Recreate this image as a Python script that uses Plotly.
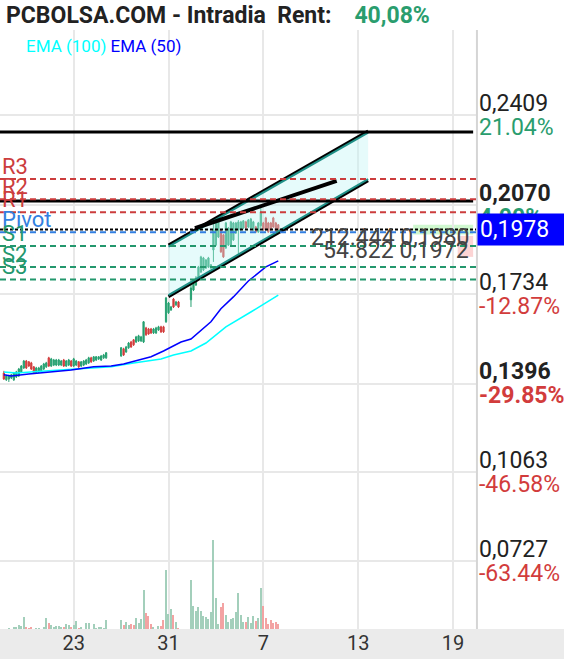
import plotly.graph_objects as go

# ---------------- data ----------------
bar_idx = list(range(0, 42)) + list(range(47, 71)) + list(range(75, 111))

opens = [
    0.1437, 0.1411, 0.1414, 0.1418, 0.1411, 0.1422, 0.1426, 0.1441, 0.1456, 0.1482,
    0.1479, 0.1475, 0.1460, 0.1437, 0.1441, 0.1445, 0.1452, 0.1460, 0.1494, 0.1463,
    0.1467, 0.1467, 0.1467, 0.1467, 0.1486, 0.1463, 0.1467, 0.1482, 0.1463, 0.1467,
    0.1479, 0.1463, 0.1467, 0.1471, 0.1475, 0.1494, 0.1482, 0.1486, 0.1490, 0.1486,
    0.1494, 0.1494,
    0.1501, 0.1528, 0.1516, 0.1532, 0.1554, 0.1562, 0.1554, 0.1558, 0.1558, 0.1554,
    0.1607, 0.1603, 0.1603, 0.1588, 0.1588, 0.1599, 0.1611, 0.1611, 0.1630, 0.1664,
    0.1675, 0.1716, 0.1694, 0.1705,
    0.1713, 0.1750, 0.1769, 0.1799, 0.1818, 0.1826, 0.1833, 0.1837, 0.1833, 0.1901,
    0.1920, 0.1950, 0.1977, 0.1958, 0.1909, 0.1920, 0.1920, 0.1939, 0.1965, 0.1977,
    0.1977, 0.1984, 0.2007, 0.1988, 0.1984, 0.1977, 0.1988, 0.1969, 0.1992, 0.2003,
    0.2022, 0.2003, 0.2003, 0.2022, 0.2003, 0.1996,
]
highs = [
    0.1445, 0.1430, 0.1430, 0.1433, 0.1441, 0.1445, 0.1456, 0.1467, 0.1486, 0.1486,
    0.1482, 0.1479, 0.1463, 0.1460, 0.1460, 0.1467, 0.1475, 0.1479, 0.1498, 0.1494,
    0.1490, 0.1490, 0.1490, 0.1486, 0.1490, 0.1486, 0.1490, 0.1486, 0.1494, 0.1486,
    0.1482, 0.1482, 0.1486, 0.1490, 0.1498, 0.1498, 0.1501, 0.1501, 0.1501, 0.1505,
    0.1509, 0.1516,
    0.1535, 0.1532, 0.1539, 0.1554, 0.1558, 0.1565, 0.1577, 0.1581, 0.1577, 0.1633,
    0.1611, 0.1607, 0.1607, 0.1607, 0.1611, 0.1615, 0.1615, 0.1615, 0.1724, 0.1705,
    0.1690, 0.1720, 0.1709, 0.1709,
    0.1769, 0.1788, 0.1803, 0.1841, 0.1879, 0.1875, 0.1867, 0.1875, 0.1848, 0.2007,
    0.2007, 0.2018, 0.1980, 0.1962, 0.2007, 0.1988, 0.2011, 0.2007, 0.2007, 0.2014,
    0.2011, 0.2014, 0.2011, 0.2018, 0.2022, 0.2011, 0.1992, 0.2007, 0.2063, 0.2007,
    0.2026, 0.2007, 0.2007, 0.2026, 0.2007, 0.1999,
]
lows = [
    0.1411, 0.1407, 0.1403, 0.1414, 0.1407, 0.1418, 0.1422, 0.1437, 0.1452, 0.1452,
    0.1460, 0.1448, 0.1433, 0.1433, 0.1437, 0.1441, 0.1448, 0.1456, 0.1460, 0.1460,
    0.1463, 0.1463, 0.1463, 0.1463, 0.1460, 0.1460, 0.1463, 0.1460, 0.1460, 0.1463,
    0.1456, 0.1460, 0.1463, 0.1467, 0.1471, 0.1475, 0.1479, 0.1482, 0.1486, 0.1482,
    0.1490, 0.1490,
    0.1498, 0.1501, 0.1513, 0.1528, 0.1532, 0.1539, 0.1550, 0.1554, 0.1554, 0.1550,
    0.1577, 0.1581, 0.1584, 0.1584, 0.1584, 0.1596, 0.1588, 0.1588, 0.1626, 0.1660,
    0.1671, 0.1682, 0.1690, 0.1682,
    0.1686, 0.1746, 0.1765, 0.1796, 0.1814, 0.1822, 0.1829, 0.1833, 0.1829, 0.1856,
    0.1916, 0.1946, 0.1890, 0.1871, 0.1905, 0.1916, 0.1916, 0.1935, 0.1962, 0.1882,
    0.1973, 0.1980, 0.1980, 0.1984, 0.1980, 0.1973, 0.1965, 0.1965, 0.1984, 0.1973,
    0.1973, 0.1965, 0.1973, 0.1984, 0.1965, 0.1973,
]
closes = [
    0.1414, 0.1426, 0.1426, 0.1430, 0.1437, 0.1441, 0.1452, 0.1463, 0.1482, 0.1456,
    0.1463, 0.1452, 0.1437, 0.1456, 0.1456, 0.1463, 0.1471, 0.1475, 0.1463, 0.1490,
    0.1486, 0.1486, 0.1486, 0.1482, 0.1463, 0.1482, 0.1486, 0.1463, 0.1490, 0.1482,
    0.1460, 0.1479, 0.1482, 0.1486, 0.1494, 0.1479, 0.1498, 0.1498, 0.1498, 0.1501,
    0.1505, 0.1513,
    0.1532, 0.1505, 0.1535, 0.1550, 0.1535, 0.1543, 0.1573, 0.1577, 0.1573, 0.1630,
    0.1581, 0.1584, 0.1588, 0.1603, 0.1607, 0.1611, 0.1592, 0.1592, 0.1720, 0.1701,
    0.1686, 0.1686, 0.1705, 0.1686,
    0.1758, 0.1780, 0.1796, 0.1837, 0.1875, 0.1871, 0.1863, 0.1871, 0.1845, 0.1977,
    0.2003, 0.2014, 0.1894, 0.1875, 0.2003, 0.1984, 0.2007, 0.2003, 0.2003, 0.2007,
    0.2007, 0.2011, 0.1984, 0.2014, 0.2018, 0.2007, 0.1969, 0.2003, 0.2045, 0.1977,
    0.1977, 0.1969, 0.1977, 0.1988, 0.1969, 0.1978,
]
# volume in thousands of shares
volumes = [
    0, 0, 10, 0, 20, 20, 40, 30, 120, 20,
    10, 20, 0, 10, 10, 0, 20, 110, 60, 40,
    20, 30, 30, 20, 20, 50, 40, 20, 40, 80,
    10, 20, 0, 60, 60, 0, 50, 10, 20, 20,
    10, 90,
    90, 40, 70, 40, 50, 40, 110, 60, 100, 390,
    160, 130, 50, 20, 0, 30, 30, 90, 590, 150,
    200, 140, 70, 10,
    490, 230, 180, 220, 180, 130, 120, 100, 170, 890,
    310, 50, 220, 260, 140, 70, 100, 110, 170, 360,
    140, 70, 70, 120, 60, 130, 80, 110, 410, 230,
    110, 50, 90, 60, 70, 50,
]

ema100_idx = [0, 5, 18, 32, 43, 52, 63, 68, 75, 81, 89, 99, 110]
ema100_val = [0.1441, 0.1437, 0.1445, 0.1452, 0.1460, 0.1475, 0.1490, 0.1505,
              0.1520, 0.1550, 0.1611, 0.1667, 0.1731]
ema50_idx = [0, 3, 10, 18, 27, 36, 43, 48, 53, 59, 64, 67, 71, 75, 79, 83, 87, 92, 98, 105, 110]
ema50_val = [0.1430, 0.1426, 0.1433, 0.1441, 0.1448, 0.1460, 0.1463, 0.1471, 0.1482,
             0.1498, 0.1520, 0.1535, 0.1554, 0.1565, 0.1599, 0.1630, 0.1679, 0.1724,
             0.1784, 0.1837, 0.1860]

# trend channel & line
channel_x = [66, 146]
channel_upper = [0.1914, 0.2344]
channel_lower = [0.1731, 0.2168]
trend_x = [76.6, 133.4]
trend_y = [0.1983, 0.2162]

# horizontal levels
resist_lines = [0.2346, 0.2086]
pivot_names = ['R3', 'R2', 'R1', 'Pivot', 'S1', 'S2', 'S3']
pivot_vals = [0.2169, 0.2092, 0.2043, 0.1968, 0.1916, 0.1837, 0.1790]
last_price = 0.1978
last_text = '0,1978'
bid_vol, bid_px = '212.444', '0,1980'
ask_vol, ask_px = '54.822', '0,1972'
bid_size, ask_size = 212444, 54822

# axes
x_tickvals = [28, 66, 104, 142, 180]
x_ticktext = ['23', '31', '7', '13', '19']
y_tickvals = [0.2409, 0.2070, 0.1734, 0.1396, 0.1063, 0.0727]
y_ticktext = ['0,2409', '0,2070', '0,1734', '0,1396', '0,1063', '0,0727']
y_pcttext = ['21.04%', '4.00%', '-12.87%', '-29.85%', '-46.58%', '-63.44%']
y_bold = [False, True, False, True, False, False]

title_text = 'PCBOLSA.COM - Intradia\u00a0\u00a0Rent:'
rent_text = '40,08%'

# ---------------- style ----------------
FONT = 'Roboto'
GREEN = '#26a071'
RED = '#d23c3c'
VGREEN = '#a3cfbb'
VRED = '#f3a3a3'
LRED = '#cc3d3d'
LBLUE = '#337fe0'
LGREEN = '#23976d'
TEAL = '#1f8f86'
GRID = '#e8e8e8'
PGREEN = '#2a9d6e'

fig = go.Figure()

fig.add_trace(go.Bar(
    x=bar_idx, y=volumes, yaxis='y2', width=0.45,
    marker=dict(color=[VGREEN if c >= o else VRED for o, c in zip(opens, closes)],
                line=dict(width=0)),
    hoverinfo='skip', showlegend=False))

fig.add_trace(go.Scatter(x=ema100_idx, y=ema100_val, mode='lines',
                         line=dict(color='#00ffff', width=1.5), showlegend=False))
fig.add_trace(go.Scatter(x=ema50_idx, y=ema50_val, mode='lines',
                         line=dict(color='#0000ff', width=1.5), showlegend=False))

fig.add_trace(go.Candlestick(
    x=bar_idx, open=opens, high=highs, low=lows, close=closes,
    increasing=dict(line=dict(color=GREEN, width=1), fillcolor=GREEN),
    decreasing=dict(line=dict(color=RED, width=1), fillcolor=RED),
    whiskerwidth=0, showlegend=False))

# channel fill
fig.add_trace(go.Scatter(
    x=[channel_x[0], channel_x[1], channel_x[1], channel_x[0], channel_x[0]],
    y=[channel_upper[0], channel_upper[1], channel_lower[1], channel_lower[0], channel_upper[0]],
    mode='lines', fill='toself', fillcolor='rgba(190,245,245,0.38)',
    line=dict(width=0), showlegend=False, hoverinfo='skip'))

OFF = 0.0006  # outline offset of channel border (style)
fig.add_trace(go.Scatter(x=channel_x, y=[v + OFF for v in channel_upper], mode='lines',
                         line=dict(color='black', width=3), showlegend=False))
fig.add_trace(go.Scatter(x=channel_x, y=[v - OFF for v in channel_lower], mode='lines',
                         line=dict(color='black', width=3), showlegend=False))
fig.add_trace(go.Scatter(x=channel_x, y=channel_upper, mode='lines',
                         line=dict(color=TEAL, width=2), showlegend=False))
fig.add_trace(go.Scatter(x=channel_x, y=channel_lower, mode='lines',
                         line=dict(color=TEAL, width=2), showlegend=False))
fig.add_trace(go.Scatter(x=trend_x, y=trend_y, mode='lines',
                         line=dict(color='black', width=4), showlegend=False))

shapes = []
# grey x-axis band
shapes.append(dict(type='rect', xref='paper', yref='paper', x0=0, x1=564 / 476,
                   y0=-30 / 599, y1=0, fillcolor='#ebebeb', line=dict(width=0), layer='below'))
# right border
shapes.append(dict(type='line', xref='paper', yref='paper', x0=1.002, x1=1.002, y0=0, y1=1,
                   line=dict(color='#d5d5d5', width=2)))
for v in resist_lines:
    shapes.append(dict(type='line', xref='paper', yref='y', x0=0, x1=0.994, y0=v, y1=v,
                       line=dict(color='black', width=3)))
pcolors = [LRED, LRED, LRED, LBLUE, LGREEN, LGREEN, LGREEN]
for v, c in zip(pivot_vals, pcolors):
    shapes.append(dict(type='line', xref='paper', yref='y', x0=0, x1=1, y0=v, y1=v,
                       line=dict(color=c, width=2, dash='6px,4px')))
shapes.append(dict(type='line', xref='paper', yref='y', x0=0, x1=1, y0=last_price, y1=last_price,
                   line=dict(color='black', width=2, dash='3px,2px')))
# order book depth boxes
bar_px = 60.0
shapes.append(dict(type='rect', xref='paper', yref='y', x0=0.994 - bar_px / 476, x1=0.994,
                   y0=last_price - 0.0019, y1=last_price + 0.0018,
                   fillcolor='rgba(150,240,150,0.45)', line=dict(width=0), layer='below'))
shapes.append(dict(type='rect', xref='paper', yref='y',
                   x0=0.994 - bar_px * ask_size / bid_size / 476, x1=0.994,
                   y0=last_price - 0.0103, y1=last_price - 0.0024,
                   fillcolor='rgba(250,170,170,0.5)', line=dict(width=0), layer='below'))

ann = []
ann.append(dict(xref='paper', yref='paper', x=0, y=1, xanchor='left', yanchor='middle',
                xshift=4, yshift=15, showarrow=False,
                text=title_text + '\u00a0\u00a0\u00a0 <span style="color:%s">%s</span>' % (PGREEN, rent_text),
                font=dict(family=FONT, size=23, color='#222', weight='bold')))
ann.append(dict(xref='paper', yref='paper', x=0, y=1, xanchor='left', yanchor='middle',
                xshift=24, yshift=-16, showarrow=False,
                text='<span style="color:#00ffff">EMA (100)</span> <span style="color:#0000ff">EMA (50)</span>',
                font=dict(family=FONT, size=17)))
for name, v, c in zip(pivot_names, pivot_vals, pcolors):
    ann.append(dict(xref='paper', yref='y', x=0, y=v, xanchor='left', yanchor='bottom',
                    xshift=0, yshift=-2, showarrow=False, text=name,
                    font=dict(family=FONT, size=22, color=c)))
for v, t, p, b in zip(y_tickvals, y_ticktext, y_pcttext, y_bold):
    pc = PGREEN if not p.startswith('-') else RED
    w = 'bold' if b else 'normal'
    ann.append(dict(xref='paper', yref='y', x=1, y=v, xanchor='left', yanchor='middle',
                    xshift=1, yshift=12, showarrow=False, text=t,
                    font=dict(family=FONT, size=23, color='#222', weight=w)))
    ann.append(dict(xref='paper', yref='y', x=1, y=v, xanchor='left', yanchor='middle',
                    xshift=1, yshift=-12, showarrow=False, text=p,
                    font=dict(family=FONT, size=23, color=pc, weight=w)))
ann.append(dict(xref='paper', yref='y', x=1, y=last_price, xanchor='left', yanchor='middle',
                xshift=1, showarrow=False, text=last_text, bgcolor='#0000ff',
                width=84, height=27, borderpad=2, align='left',
                font=dict(family=FONT, size=23, color='white')))
ann.append(dict(xref='paper', yref='y', x=1, y=last_price, xanchor='right', yanchor='middle',
                xshift=-5, yshift=-8, showarrow=False, text=bid_vol + ' ' + bid_px,
                font=dict(family=FONT, size=23, color='#444')))
ann.append(dict(xref='paper', yref='y', x=1, y=last_price, xanchor='right', yanchor='middle',
                xshift=-5, yshift=-21, showarrow=False, text=ask_vol + ' ' + ask_px,
                font=dict(family=FONT, size=23, color='#444')))

fig.update_layout(
    width=564, height=659,
    margin=dict(l=0, r=88, t=30, b=30, autoexpand=False),
    paper_bgcolor='white', plot_bgcolor='white',
    showlegend=False, bargap=0,
    xaxis=dict(range=[-1.54, 189.24], tickvals=x_tickvals, ticktext=x_ticktext,
               showgrid=True, gridcolor=GRID, gridwidth=1.5, zeroline=False,
               showline=False, ticks='', rangeslider=dict(visible=False),
               ticklabelstandoff=0, automargin=False,
               tickfont=dict(family=FONT, size=20, color='#333')),
    yaxis=dict(range=[0.0471, 0.2731], tickvals=y_tickvals, showticklabels=False,
               showgrid=True, gridcolor=GRID, gridwidth=1.5, zeroline=False, showline=False),
    yaxis2=dict(range=[0, 5990], overlaying='y', visible=False),
    shapes=shapes, annotations=ann,
)

fig.write_html('out.html', config={'displayModeBar': False},
               post_script="document.body.style.margin='0';document.body.style.overflow='hidden';")
